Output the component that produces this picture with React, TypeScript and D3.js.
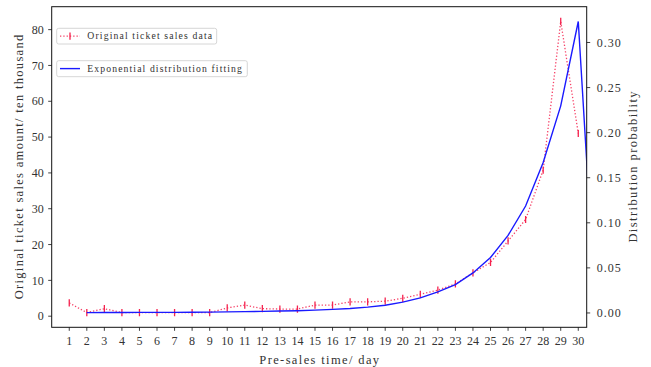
import React from "react";
import * as d3 from "d3";

const days: number[] = Array.from({ length: 30 }, (_, i) => i + 1);
const salesValues: number[] = [
  3.7, 1.0, 2.1, 1.0, 1.0, 1.0, 1.0, 1.0, 1.0, 2.3,
  3.1, 2.1, 2.0, 2.0, 3.1, 3.1, 4.0, 4.0, 4.2, 5.0,
  6.1, 7.3, 9.0, 12.1, 15.0, 21.0, 27.0, 40.8, 82.3, 51.0,
];
const fitDays: number[] = [
  2, 3, 4, 5, 6, 7, 8, 9, 10, 11, 12, 13, 14, 15, 16, 17, 18, 19, 20, 21,
  22, 23, 24, 25, 26, 27, 28, 29, 30, 31,
];
const fitValues: number[] = [
  0.0004, 0.0005, 0.0005, 0.0006, 0.0006, 0.0007, 0.0008, 0.0009, 0.0012, 0.0015,
  0.0018, 0.0021, 0.0025, 0.0031, 0.004, 0.005, 0.0065, 0.0086, 0.012, 0.0167,
  0.0233, 0.0315, 0.0444, 0.0615, 0.086, 0.1186, 0.167, 0.2297, 0.3233, 0.0,
];
const leftTicks: number[] = [0, 10, 20, 30, 40, 50, 60, 70, 80];
const rightTicks: number[] = [0, 0.05, 0.1, 0.15, 0.2, 0.25, 0.3];
const xLabel = "Pre-sales time/ day";
const yLeftLabel = "Original ticket sales amount/ ten thousand";
const yRightLabel = "Distribution probability";
const legendLabels: string[] = ["Original ticket sales data", "Exponential distribution fitting"];

const W = 651;
const H = 367;
const L = 51.7, R = 586.7, T = 6.7, B = 327.3;
const RED = "#f5224e";
const BLUE = "#1a1aff";
const FONT = "'Liberation Serif', 'DejaVu Serif', serif";
const TXT = "#333";

export default function App() {
  const x = d3.scaleLinear().domain([0, 30.48]).range([L, R]);
  const yL = d3.scaleLinear().domain([-3.1, 86.4]).range([B, T]);
  const yR = d3.scaleLinear().domain([-0.0159, 0.3397]).range([B, T]);

  const redLine = d3.line<number>().x((_, i) => x(days[i])).y((d) => yL(d))(salesValues) || "";
  const blueLine = d3.line<number>().x((_, i) => x(fitDays[i])).y((d) => yR(d))(fitValues) || "";

  const tickFs = 12;
  const labFs = 12.5;
  const legFs = 9.7;

  return (
    <svg width={W} height={H} style={{ position: "absolute", left: 0, top: 0, background: "#fff" }}>
      <defs>
        <clipPath id="plot">
          <rect x={L} y={T} width={R - L} height={B - T} />
        </clipPath>
      </defs>
      <rect x={0} y={0} width={W} height={H} fill="#fff" />
      <g clipPath="url(#plot)">
        <path d={redLine} fill="none" stroke={RED} strokeWidth={1.3} strokeDasharray="1.3 2" opacity={0.85} />
        {salesValues.map((v, i) => (
          <line key={i} x1={x(days[i])} x2={x(days[i])} y1={yL(v) - 3.6} y2={yL(v) + 3.6} stroke={RED} strokeWidth={1.3} />
        ))}
        <path d={blueLine} fill="none" stroke={BLUE} strokeWidth={1.4} />
      </g>
      {/* spines */}
      <rect x={L} y={T} width={R - L} height={B - T} fill="none" stroke="#111" strokeWidth={1} />
      {/* x ticks */}
      {days.map((d) => (
        <g key={d}>
          <line x1={x(d)} x2={x(d)} y1={B} y2={B + 3.5} stroke="#111" strokeWidth={0.8} />
          <text x={x(d)} y={B + 18} fontSize={tickFs} fontFamily={FONT} fill={TXT} textAnchor="middle">
            {d}
          </text>
        </g>
      ))}
      {/* left ticks */}
      {leftTicks.map((t) => (
        <g key={t}>
          <line x1={L - 3.5} x2={L} y1={yL(t)} y2={yL(t)} stroke="#111" strokeWidth={0.8} />
          <text x={L - 8} y={yL(t) + 4.2} fontSize={tickFs} fontFamily={FONT} fill={TXT} textAnchor="end">
            {t}
          </text>
        </g>
      ))}
      {/* right ticks */}
      {rightTicks.map((t) => {
        const s = t.toFixed(2);
        return (
          <g key={t}>
            <line x1={R} x2={R + 3.5} y1={yR(t)} y2={yR(t)} stroke="#111" strokeWidth={0.8} />
            <text x={R + 10} y={yR(t) + 4.2} fontSize={tickFs} fontFamily={FONT} fill={TXT}
              textLength={s.length * 6} lengthAdjust="spacing">
              {s}
            </text>
          </g>
        );
      })}
      {/* axis labels */}
      <text x={(L + R) / 2} y={364} fontSize={labFs} fontFamily={FONT} fill={TXT} textAnchor="middle"
        textLength={xLabel.length * 6.3} lengthAdjust="spacing">
        {xLabel}
      </text>
      <text transform={`translate(22.5, ${(T + B) / 2}) rotate(-90)`} fontSize={labFs} fontFamily={FONT} fill={TXT}
        textAnchor="middle" textLength={yLeftLabel.length * 6.3} lengthAdjust="spacing">
        {yLeftLabel}
      </text>
      <text transform={`translate(637, ${(T + B) / 2}) rotate(-90)`} fontSize={labFs} fontFamily={FONT} fill={TXT}
        textAnchor="middle" textLength={yRightLabel.length * 6.3} lengthAdjust="spacing">
        {yRightLabel}
      </text>
      {/* legends */}
      <g>
        <rect x={56.7} y={28.3} width={160} height={15.7} rx={2} fill="#fff" fillOpacity={0.8} stroke="#ccc" strokeWidth={0.8} />
        <line x1={60} x2={80} y1={36.2} y2={36.2} stroke={RED} strokeWidth={1.3} strokeDasharray="1.3 2" opacity={0.85} />
        <line x1={70} x2={70} y1={32.6} y2={39.8} stroke={RED} strokeWidth={1.3} />
        <text x={87.3} y={39.3} fontSize={legFs} fontFamily={FONT} fill={TXT}
          textLength={legendLabels[0].length * 4.8} lengthAdjust="spacing">
          {legendLabels[0]}
        </text>
      </g>
      <g>
        <rect x={56.7} y={60.7} width={190.6} height={16} rx={2} fill="#fff" fillOpacity={0.8} stroke="#ccc" strokeWidth={0.8} />
        <line x1={60} x2={80} y1={68.6} y2={68.6} stroke={BLUE} strokeWidth={1.4} />
        <text x={87.3} y={71.8} fontSize={legFs} fontFamily={FONT} fill={TXT}
          textLength={legendLabels[1].length * 4.83} lengthAdjust="spacing">
          {legendLabels[1]}
        </text>
      </g>
    </svg>
  );
}
